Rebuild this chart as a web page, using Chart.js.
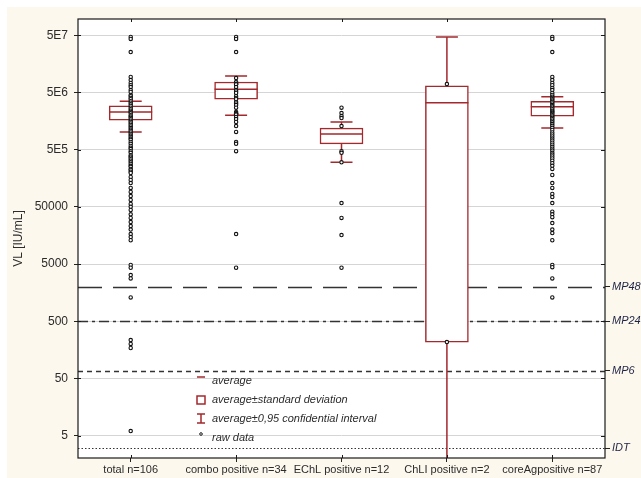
<!DOCTYPE html>
<html>
<head>
<meta charset="utf-8">
<title>VL by test group</title>
<script src="https://cdn.jsdelivr.net/npm/chart.js@4.4.1/dist/chart.umd.min.js"></script>
<style>
  html, body { margin: 0; padding: 0; background: #ffffff; }
  canvas { display: block; }
</style>
</head>
<body>
<canvas id="vlChart" width="641" height="478"></canvas>
<script>
const categories = ['total n=106', 'combo positive n=34', 'EChL positive n=12', 'ChLI positive n=2', 'coreAgpositive n=87'];

// box = average ± SD, whiskers = average ± 0.95 CI
const means   = [2.27e6, 5.7e6, 9.4e5, 3.3e6, 2.8e6];
const sdLow   = [1.64e6, 3.8e6, 6.3e5, 216, 1.93e6];
const sdHigh  = [2.9e6, 7.6e6, 1.19e6, 6.5e6, 3.5e6];
const ciLow   = [1.02e6, 2.0e6, 3.0e5, 1, 1.19e6];
const ciHigh  = [3.5e6, 9.7e6, 1.52e6, 4.65e7, 4.2e6];

// raw data, VL [IU/mL]
const rawTotal = [
  4.65e7, 4.3e7, 2.54e7,
  9.3e6, 8.2e6, 7.3e6, 6.7e6, 6.2e6, 5.5e6, 5.1e6,
  4.5e6, 4.3e6, 4.0e6, 3.8e6, 3.5e6, 3.3e6, 3.1e6, 2.9e6, 2.7e6, 2.55e6, 2.4e6, 2.27e6, 2.15e6,
  2.0e6, 1.9e6, 1.8e6, 1.7e6, 1.6e6, 1.52e6, 1.43e6, 1.35e6, 1.27e6, 1.19e6, 1.12e6, 1.06e6, 1.0e6,
  9.4e5, 8.8e5, 8.3e5, 7.8e5, 7.4e5, 6.8e5, 6.3e5, 5.8e5, 5.4e5, 5.1e5, 4.7e5, 4.4e5, 4.0e5,
  3.8e5, 3.6e5, 3.4e5, 3.2e5, 3.0e5, 2.8e5, 2.6e5, 2.5e5, 2.3e5, 2.2e5, 2.05e5, 1.95e5,
  1.66e5, 1.47e5, 1.3e5, 1.07e5, 9.1e4, 7.7e4, 6.6e4, 5.6e4, 5.0e4,
  4.4e4, 3.7e4, 3.2e4, 2.7e4, 2.3e4, 2.0e4, 1.67e4, 1.48e4, 1.3e4,
  4.8e3, 4.3e3, 3.2e3, 2.8e3, 1.3e3, 234, 200, 170, 6.0
];
const rawCombo = [
  4.65e7, 4.3e7, 2.54e7,
  8.9e6, 7.6e6, 7.1e6, 7.0e6, 6.9e6, 6.2e6, 5.5e6, 5.2e6, 4.9e6, 4.3e6, 4.0e6, 3.8e6, 3.4e6,
  3.2e6, 3.0e6, 2.7e6, 2.27e6, 2.15e6, 2.12e6, 2.1e6, 2.05e6, 1.86e6, 1.71e6, 1.52e6, 1.29e6, 1.02e6,
  6.8e5, 6.3e5, 4.7e5,
  1.67e4, 4.3e3
];
const rawEChL = [2.7e6, 2.18e6, 1.93e6, 1.78e6, 1.29e6, 4.7e5, 4.4e5, 3.0e5, 5.8e4, 3.2e4, 1.6e4, 4.3e3];
const rawChLI = [7.0e6, 216];
const rawCoreAg = [
  4.65e7, 4.3e7, 2.54e7,
  9.3e6, 8.2e6, 7.3e6, 6.7e6, 6.0e6, 5.5e6, 4.9e6, 4.5e6,
  4.2e6, 4.0e6, 3.8e6, 3.6e6, 3.4e6, 3.2e6, 3.0e6, 2.85e6, 2.7e6, 2.55e6, 2.4e6, 2.3e6,
  2.2e6, 2.1e6, 2.0e6, 1.9e6, 1.8e6, 1.7e6, 1.6e6, 1.5e6, 1.4e6, 1.3e6, 1.2e6,
  1.1e6, 1.0e6, 9.2e5, 8.5e5, 7.8e5, 7.2e5, 6.6e5, 6.1e5, 5.6e5, 5.2e5,
  4.8e5, 4.4e5, 4.1e5, 3.8e5, 3.5e5, 3.2e5, 2.9e5, 2.6e5, 2.3e5, 1.8e5,
  1.3e5, 1.07e5, 8.4e4, 7.4e4, 5.8e4,
  4.1e4, 3.7e4, 3.3e4, 2.6e4, 2.0e4, 1.74e4, 1.3e4,
  4.8e3, 4.4e3, 2.8e3, 1.3e3
];
const rawSets = [rawTotal, rawCombo, rawEChL, rawChLI, rawCoreAg];

const yTicks = [5, 50, 500, 5000, 50000, 5e5, 5e6, 5e7];
const yTickLabels = ['5', '50', '500', '5000', '50000', '5E5', '5E6', '5E7'];

// thresholds drawn across the plot, labelled on the right
const refValues = [2000, 500, 68, 3];
const refLabels = ['MP48', 'MP24', 'MP6', 'IDT'];
const refDash = [[24, 11], [10, 4, 3, 4], [5, 4], [1.5, 2]];

const legendText = ['average', 'average\u00b1standard deviation', 'average\u00b10,95 confidential interval', 'raw data'];

const FONT = "'Liberation Sans', Arial, sans-serif";
const RED = '#a3292c';
const INK = '#2b2b2b';
const CREAM = '#fcf8ee';
const Y_MIN = 2.03, Y_MAX = 9.6e7;

Chart.defaults.font.family = FONT;
Chart.defaults.color = INK;

const background = {
  id: 'background',
  beforeDraw(chart) {
    const {ctx, width, height, chartArea: a} = chart;
    ctx.save();
    ctx.fillStyle = '#ffffff';
    ctx.fillRect(0, 0, width, height);
    ctx.fillStyle = CREAM;
    ctx.fillRect(7, 7, width - 7, height - 7);
    ctx.fillStyle = '#ffffff';
    ctx.fillRect(a.left, a.top, a.right - a.left, a.bottom - a.top);
    ctx.restore();
  }
};

const refLines = {
  id: 'refLines',
  beforeDatasetsDraw(chart) {
    const {ctx, chartArea: a} = chart;
    const y = chart.scales.y;
    ctx.save();
    ctx.strokeStyle = '#333333';
    refValues.forEach((v, i) => {
      const py = Math.round(y.getPixelForValue(v)) + 0.5;
      ctx.lineWidth = i === 3 ? 1 : 1.4;
      ctx.setLineDash(refDash[i]);
      ctx.beginPath();
      ctx.moveTo(a.left, py);
      ctx.lineTo(a.right, py);
      ctx.stroke();
    });
    ctx.restore();
  }
};

const whiskers = {
  id: 'whiskers',
  afterDatasetDraw(chart, args) {
    if (args.meta.type !== 'bar') return;
    const {ctx, chartArea: a} = chart;
    const y = chart.scales.y;
    const py = v => Math.min(a.bottom, Math.max(a.top, y.getPixelForValue(v)));
    ctx.save();
    ctx.strokeStyle = RED;
    ctx.lineWidth = 1.5;
    args.meta.data.forEach((bar, i) => {
      const x = bar.x, half = bar.width / 2, cap = 11;
      const top = py(sdHigh[i]), bot = py(sdLow[i]);
      const hi = py(ciHigh[i]), lo = py(ciLow[i]);
      const m = py(means[i]);
      ctx.beginPath();
      ctx.moveTo(x - half, m); ctx.lineTo(x + half, m);
      ctx.moveTo(x, top); ctx.lineTo(x, hi);
      ctx.moveTo(x, bot); ctx.lineTo(x, lo);
      ctx.moveTo(x - cap, hi); ctx.lineTo(x + cap, hi);
      if (lo < a.bottom) { ctx.moveTo(x - cap, lo); ctx.lineTo(x + cap, lo); }
      ctx.stroke();
    });
    ctx.restore();
  }
};

const frameAndLegend = {
  id: 'frameAndLegend',
  afterDraw(chart) {
    const {ctx, chartArea: a} = chart;
    const x = chart.scales.x, y = chart.scales.y;
    ctx.save();
    // frame
    ctx.strokeStyle = '#1a1a1a';
    ctx.lineWidth = 1.2;
    ctx.strokeRect(a.left, a.top, a.right - a.left, a.bottom - a.top);
    ctx.lineWidth = 1;
    ctx.beginPath();
    categories.forEach((c, i) => {
      const px = Math.round(x.getPixelForValue(i)) + 0.5;
      ctx.moveTo(px, a.top); ctx.lineTo(px, a.top + 3);
      ctx.moveTo(px, a.bottom - 3); ctx.lineTo(px, a.bottom);
    });
    yTicks.forEach(v => {
      const p = Math.round(y.getPixelForValue(v)) + 0.5;
      ctx.moveTo(a.right - 4, p); ctx.lineTo(a.right, p);
      ctx.moveTo(a.left, p); ctx.lineTo(a.left + 3, p);
    });
    ctx.stroke();

    // legend box inside the plot
    const mx = a.left + 123, tx = a.left + 134;
    const rows = [a.top + 362, a.top + 381, a.top + 400, a.top + 419];
    ctx.strokeStyle = RED;
    ctx.lineWidth = 1.5;
    ctx.beginPath();
    ctx.moveTo(mx - 4, rows[0] - 4); ctx.lineTo(mx + 4, rows[0] - 4);
    ctx.stroke();
    ctx.strokeRect(mx - 4, rows[1] - 4, 8, 8);
    ctx.beginPath();
    ctx.moveTo(mx, rows[2] - 5); ctx.lineTo(mx, rows[2] + 4);
    ctx.moveTo(mx - 4, rows[2] - 5); ctx.lineTo(mx + 4, rows[2] - 5);
    ctx.moveTo(mx - 4, rows[2] + 4); ctx.lineTo(mx + 4, rows[2] + 4);
    ctx.stroke();
    ctx.strokeStyle = '#1a1a1a';
    ctx.lineWidth = 1;
    ctx.beginPath();
    ctx.arc(mx, rows[3] - 4, 1.3, 0, Math.PI * 2);
    ctx.stroke();

    ctx.fillStyle = INK;
    ctx.font = 'italic 11px ' + FONT;
    ctx.textAlign = 'left';
    ctx.textBaseline = 'middle';
    legendText.forEach((t, i) => ctx.fillText(t, tx, rows[i]));
    ctx.restore();
  }
};

const pointDatasets = rawSets.map((vals, i) => ({
  type: 'scatter',
  label: 'raw data',
  data: vals.map(v => ({x: categories[i], y: v})),
  order: 1,
  pointRadius: 1.7,
  pointHoverRadius: 1.7,
  pointBorderWidth: 1.1,
  pointBorderColor: '#111111',
  pointBackgroundColor: '#ffffff'
}));

const chart = new Chart(document.getElementById('vlChart'), {
  type: 'bar',
  data: {
    labels: categories,
    datasets: [{
      type: 'bar',
      label: 'average\u00b1standard deviation',
      data: sdLow.map((lo, i) => [lo, sdHigh[i]]),
      backgroundColor: '#ffffff',
      borderColor: RED,
      borderWidth: 1.5,
      borderSkipped: false,
      barThickness: 43,
      order: 2
    }, ...pointDatasets]
  },
  options: {
    responsive: false,
    devicePixelRatio: 1,
    animation: false,
    layout: {padding: {top: 19, left: 0, right: 0, bottom: 0}},
    plugins: {
      legend: {display: false},
      tooltip: {enabled: false}
    },
    scales: {
      x: {
        type: 'category',
        offset: true,
        afterFit: s => { s.height = 20; },
        grid: {display: true, drawOnChartArea: false, offset: false, tickLength: 4, tickColor: '#222'},
        border: {display: false},
        ticks: {font: {size: 11}, color: INK, padding: 1, autoSkip: false, maxRotation: 0}
      },
      y: {
        type: 'logarithmic',
        position: 'left',
        min: Y_MIN,
        max: Y_MAX,
        afterBuildTicks: s => { s.ticks = yTicks.map(v => ({value: v})); },
        afterFit: s => { s.width = 78; },
        ticks: {callback: (v, i) => yTickLabels[i], font: {size: 12}, color: INK, padding: 6, autoSkip: false},
        grid: {color: '#d5d5d5', lineWidth: 1, tickLength: 4, tickColor: '#222'},
        border: {display: false},
        title: {display: true, text: 'VL [IU/mL]', font: {size: 12}, color: INK, padding: {top: 11, bottom: 0}}
      },
      y2: {
        type: 'logarithmic',
        position: 'right',
        min: Y_MIN,
        max: Y_MAX,
        afterBuildTicks: s => { s.ticks = refValues.map(v => ({value: v})); },
        afterFit: s => { s.width = 36; },
        ticks: {callback: (v, i) => refLabels[i], font: {size: 11, style: 'italic'}, color: '#1f2444', padding: 2, autoSkip: false},
        grid: {drawOnChartArea: false, tickLength: 5, tickColor: '#222'},
        border: {display: false}
      }
    }
  },
  plugins: [background, refLines, whiskers, frameAndLegend]
});
</script>
</body>
</html>
